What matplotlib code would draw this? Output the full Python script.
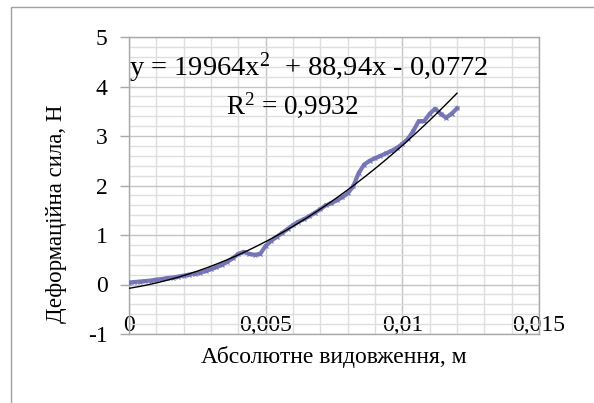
import numpy as np
import matplotlib
matplotlib.use("Agg")
import matplotlib.pyplot as plt
from matplotlib.patches import Rectangle
from matplotlib.ticker import MultipleLocator

plt.rcParams['font.family'] = ['Liberation Serif', 'DejaVu Serif']
plt.rcParams['mathtext.fontset'] = 'custom'
plt.rcParams['mathtext.rm'] = 'Liberation Serif'
plt.rcParams['mathtext.it'] = 'Liberation Serif'

# measured data: absolute elongation (m) and deformation force (N)
elongation = [0.0000, 0.0002, 0.0004, 0.0006, 0.0008, 0.0010, 0.0012, 0.0014, 0.0016, 0.0018,
              0.0020, 0.0022, 0.0024, 0.0026, 0.0028, 0.0030, 0.0032, 0.0034, 0.0036, 0.0038,
              0.0040, 0.0042, 0.0044, 0.0046, 0.0048, 0.0050, 0.0052, 0.0054, 0.0056, 0.0058,
              0.0060, 0.0062, 0.0064, 0.0066, 0.0068, 0.0070, 0.0072, 0.0074, 0.0076, 0.0078,
              0.0080, 0.0082, 0.0084, 0.0086, 0.0088, 0.0090, 0.0092, 0.0094, 0.0096, 0.0098,
              0.0100, 0.0102, 0.0104, 0.0106, 0.0108, 0.0110, 0.0112, 0.0114, 0.0116, 0.0118,
              0.0120]
force = [0.04, 0.05, 0.06, 0.07, 0.08, 0.10, 0.11, 0.13, 0.14, 0.16,
         0.18, 0.20, 0.22, 0.24, 0.27, 0.31, 0.35, 0.40, 0.46, 0.53,
         0.62, 0.66, 0.62, 0.60, 0.62, 0.78, 0.88, 0.96, 1.04, 1.12,
         1.20, 1.27, 1.32, 1.38, 1.45, 1.52, 1.60, 1.64, 1.70, 1.76,
         1.84, 1.98, 2.25, 2.42, 2.50, 2.55, 2.60, 2.65, 2.70, 2.76,
         2.84, 2.94, 3.10, 3.30, 3.30, 3.45, 3.55, 3.45, 3.37, 3.45,
         3.56]

# polynomial trendline coefficients shown on the chart (a*x^2 + b*x + c)
trend_coeffs = [19964, 88.94, -0.0772]
trend_label = 'y = 19964x$^{2}$  + 88,94x - 0,0772'
r2_label = 'R$^{2}$ = 0,9932'

x_ticks = [0, 0.005, 0.01, 0.015]
x_tick_labels = ['0', '0,005', '0,01', '0,015']
y_ticks = [-1, 0, 1, 2, 3, 4, 5]

W, H = 594, 403
fig = plt.figure(figsize=(W / 100, H / 100), dpi=100)
ax = fig.add_axes([129 / W, 1 - 334 / H, (539 - 129) / W, (334 - 37) / H])

ax.set_xlim(0, 0.015)
ax.set_ylim(-1, 5)

ax.xaxis.set_minor_locator(MultipleLocator(0.001))
ax.yaxis.set_minor_locator(MultipleLocator(0.2))
ax.set_xticks(x_ticks)
ax.set_xticklabels(x_tick_labels)
ax.set_yticks(y_ticks)
ax.set_yticklabels([str(v) for v in y_ticks])

ax.grid(True, which='major', color='#c4c4c4', lw=1.0)
ax.grid(True, which='minor', color='#dedede', lw=1.0)
ax.set_axisbelow(True)
for s in ax.spines.values():
    s.set_color('#a8a8a8')
    s.set_linewidth(1.0)

ax.tick_params(axis='y', which='major', direction='out', length=6.5, width=1,
               color='#a8a8a8', pad=9, labelsize=17, labelcolor='black')
ax.tick_params(axis='y', which='minor', length=0)
ax.tick_params(axis='x', which='both', length=0, pad=-13.5, labelsize=17, labelcolor='black')

ax.plot(elongation, force, color='#7272b4', lw=3.0, marker='x', markersize=3,
        markeredgewidth=0.9, alpha=0.95, zorder=3)

xt = np.linspace(0, max(elongation), 200)
yt = np.polyval(trend_coeffs, xt)
ax.plot(xt, yt, color='black', lw=1.0, zorder=4)

ax.text(0.0, 4.37, trend_label, fontsize=20.5, va='center', ha='left', zorder=5)
ax.text(0.00597, 3.62, r2_label, fontsize=19.5, va='center', ha='center', zorder=5)

ax.set_xlabel('Абсолютне видовження, м', fontsize=17, labelpad=7)
ax.set_ylabel('Деформаційна сила, Н', fontsize=16.5)
ax.yaxis.set_label_coords(-0.152, 0.404)

fig.patches.append(Rectangle((11 / W, -0.1), 1.2, 1.1 - 7 / H, transform=fig.transFigure,
                             fill=False, edgecolor='#a0a0a0', lw=1.0, figure=fig))

fig.savefig('out.png', dpi=100)
